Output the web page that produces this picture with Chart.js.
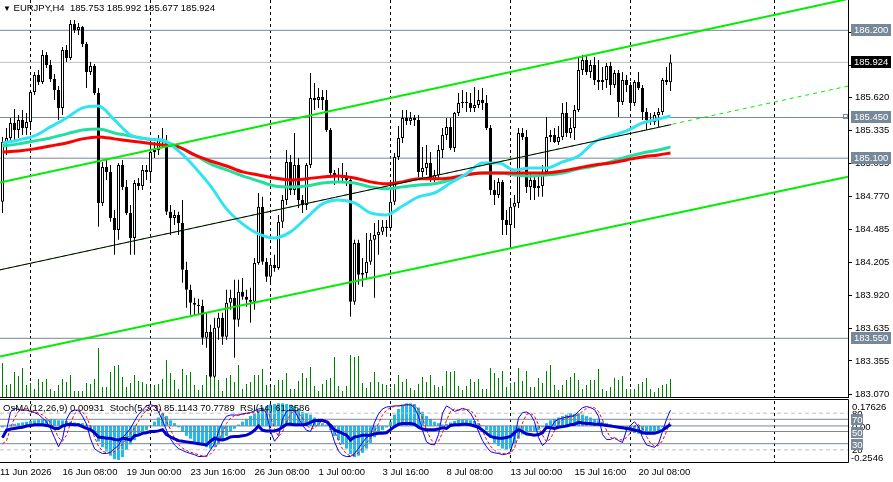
<!DOCTYPE html>
<html>
<head>
<meta charset="utf-8">
<script src="https://cdn.jsdelivr.net/npm/chart.js@4.4.1/dist/chart.umd.min.js"></script>
<style>
  html, body { margin: 0; padding: 0; background: #fff; }
  #wrap { position: relative; width: 893px; height: 482px; overflow: hidden; font-family: "Liberation Sans", Arial, sans-serif; }
  canvas { position: absolute; left: 0; }
  #main { top: 0; }
  #ind { top: 399px; }
  .cap { position: absolute; font-size: 9.5px; line-height: 12px; color: #000; white-space: pre; }
  .cap b { font-weight: normal; font-size: 8px; }
</style>
</head>
<body>
<div id="wrap">
  <canvas id="main" width="893" height="399"></canvas>
  <canvas id="ind" width="893" height="83"></canvas>
  <div class="cap" style="left:3px;top:2px"><b>▼</b> EURJPY,H4  185.753 185.992 185.677 185.924</div>
  <div class="cap" style="left:3px;top:402px">OsMA(12,26,9) 0.00931  Stoch(5,3,3) 85.1143 70.7789  RSI(14) 61.3586</div>
</div>
<script>
// EURJPY H4 candles, oldest first (168 bars)
const opens = [
  184.724,185.240,185.274,185.403,185.343,185.429,185.360,185.412,185.670,185.816,
  185.756,185.988,185.902,185.782,185.687,185.532,186.031,185.962,186.255,186.203,
  186.229,186.083,185.842,185.893,185.661,184.715,185.025,184.982,184.586,184.483,
  185.042,184.853,184.629,184.414,184.887,184.861,184.999,184.982,185.154,185.171,
  185.257,185.240,184.638,184.586,184.612,184.543,184.139,183.967,183.855,183.838,
  183.829,183.554,183.606,183.219,183.640,183.726,183.563,183.855,183.898,183.709,
  183.950,183.907,183.881,183.864,184.199,184.681,184.208,184.079,184.182,184.156,
  184.552,184.741,185.068,184.827,185.042,184.741,184.698,185.042,185.618,185.601,
  185.627,185.601,185.343,184.973,184.939,184.947,184.930,184.913,183.864,184.371,
  184.096,184.113,184.208,184.397,184.440,184.466,184.509,184.500,184.724,185.111,
  185.274,185.446,185.420,185.446,185.429,184.982,185.016,185.059,184.913,184.956,
  185.171,185.300,185.369,185.188,185.489,185.575,185.584,185.575,185.532,185.558,
  185.601,185.575,185.360,184.827,184.784,184.896,184.569,184.526,184.681,184.715,
  185.317,185.283,184.853,184.913,184.844,184.861,184.982,185.283,185.300,185.240,
  185.283,185.489,185.317,185.360,185.515,185.859,185.945,185.842,185.902,185.773,
  185.756,185.773,185.893,185.730,185.833,185.584,185.773,185.730,185.575,185.756,
  185.704,185.498,185.429,185.412,185.472,185.498,185.773,185.753
];
const highs = [
  185.283,185.360,185.446,185.524,185.472,185.515,185.489,185.687,185.842,185.859,
  186.031,186.014,185.945,185.825,185.721,186.057,186.074,186.289,186.289,186.263,
  186.237,186.100,185.928,185.911,185.704,185.068,185.085,185.042,184.655,185.059,
  185.085,184.913,184.698,184.913,184.930,185.042,185.042,185.257,185.240,185.300,
  185.360,185.300,184.698,184.655,184.638,184.741,184.208,184.010,183.898,183.890,
  183.881,183.769,183.666,183.726,183.769,183.769,183.967,183.967,184.053,184.053,
  184.070,183.967,183.984,184.242,184.801,184.767,184.242,184.242,184.268,184.612,
  184.784,185.171,185.128,185.317,185.102,184.784,185.059,185.833,185.747,185.704,
  185.687,185.687,185.360,184.999,185.016,185.059,184.982,184.930,184.397,184.397,
  184.242,184.457,184.457,184.543,184.569,184.569,184.569,184.844,185.145,185.377,
  185.515,185.515,185.498,185.472,185.472,185.197,185.214,185.154,184.999,185.214,
  185.360,185.446,185.446,185.498,185.661,185.687,185.670,185.661,185.713,185.687,
  185.704,185.644,185.386,184.913,184.930,184.913,184.655,184.741,184.784,185.360,
  185.360,185.343,184.982,184.956,184.956,185.042,185.455,185.343,185.360,185.377,
  185.575,185.584,185.446,185.558,185.962,185.988,185.988,185.945,185.971,185.945,
  185.885,185.919,185.928,185.859,185.859,185.842,185.816,185.756,185.773,185.842,
  185.730,185.532,185.489,185.498,185.532,185.790,185.885,185.992
];
const lows = [
  184.629,185.128,185.257,185.257,185.274,185.300,185.300,185.343,185.644,185.730,
  185.739,185.876,185.756,185.601,185.429,185.472,185.928,185.945,186.177,186.160,
  186.057,185.704,185.816,185.644,184.509,184.689,184.913,184.552,184.268,184.397,
  184.827,184.612,184.268,184.268,184.827,184.827,184.913,184.913,185.102,185.128,
  185.188,184.612,184.440,184.526,184.440,184.027,183.812,183.752,183.752,183.752,
  183.494,183.468,183.210,183.210,183.537,183.494,183.537,183.795,183.382,183.649,
  183.881,183.821,183.683,183.795,184.182,184.182,184.036,184.027,184.122,184.139,
  184.500,184.698,184.784,184.784,184.672,184.629,184.655,185.016,185.515,185.532,
  185.515,185.326,184.930,184.870,184.896,184.887,184.861,183.735,183.838,184.010,
  183.993,184.070,184.182,183.898,184.268,184.440,184.423,184.483,184.698,185.085,
  185.231,185.386,185.386,185.377,184.939,184.930,184.956,184.896,184.896,184.913,
  185.102,185.257,185.171,185.154,185.463,185.532,185.498,185.498,185.498,185.532,
  185.515,185.343,184.784,184.698,184.758,184.440,184.440,184.328,184.500,184.672,
  185.257,184.801,184.741,184.741,184.767,184.767,184.956,185.240,185.231,185.214,
  185.257,185.283,185.274,185.257,185.498,185.816,185.816,185.790,185.730,185.687,
  185.687,185.704,185.644,185.704,185.455,185.558,185.670,185.515,185.549,185.687,
  185.429,185.343,185.386,185.386,185.369,185.472,185.730,185.677
];
const closes = [
  185.240,185.274,185.403,185.343,185.429,185.360,185.412,185.670,185.816,185.756,
  185.988,185.902,185.782,185.687,185.532,186.031,185.962,186.255,186.203,186.229,
  186.083,185.842,185.893,185.661,184.715,185.025,184.982,184.586,184.483,185.042,
  184.853,184.629,184.414,184.887,184.861,184.999,184.982,185.154,185.171,185.257,
  185.240,184.638,184.586,184.612,184.543,184.139,183.967,183.855,183.838,183.829,
  183.554,183.606,183.219,183.640,183.726,183.563,183.855,183.898,183.709,183.950,
  183.907,183.881,183.864,184.199,184.681,184.208,184.079,184.182,184.156,184.552,
  184.741,185.068,184.827,185.042,184.741,184.698,185.042,185.618,185.601,185.627,
  185.601,185.343,184.973,184.939,184.947,184.930,184.913,183.864,184.371,184.096,
  184.113,184.208,184.397,184.440,184.466,184.509,184.500,184.724,185.111,185.274,
  185.446,185.420,185.446,185.429,184.982,185.016,185.059,184.913,184.956,185.171,
  185.300,185.369,185.188,185.489,185.575,185.584,185.575,185.532,185.558,185.601,
  185.575,185.360,184.827,184.784,184.896,184.569,184.526,184.681,184.715,185.317,
  185.283,184.853,184.913,184.844,184.861,184.982,185.283,185.300,185.240,185.283,
  185.489,185.317,185.360,185.515,185.859,185.945,185.842,185.902,185.773,185.756,
  185.773,185.893,185.730,185.833,185.584,185.773,185.730,185.575,185.756,185.704,
  185.498,185.429,185.412,185.472,185.498,185.773,185.756,185.924
];
// tick volume, relative
const volumes = [
  34,12,13,25,21,29,12,14,8,18, 15,18,8,6,12,18,15,22,6,6,
  6,14,13,18,49,10,10,25,31,32, 20,10,14,22,16,15,13,10,12,13,
  18,37,24,17,8,28,22,25,12,7, 12,22,30,30,17,6,19,22,15,32,
  8,13,15,22,22,28,12,10,12,17, 17,24,8,8,16,
  24,19,30,11,6,13,17,19,40,11, 6,11,42,40,41,14,9,15,25,15,
  13,12,9,13,22,15,18,9,7,13, 20,15,22,12,10,11,26,25,26,11,
  7,11,18,15,18,8,8,29,24,19, 26,10,14,15,29,16,26,10,10,19,
  14,26,32,12,7,12,17,20,24,17, 8,12,17,17,28,8,6,10,19,17,
  21,8,8,8,13,15,19,8,5,9, 12,13,18
];

// moving averages, read every 4th bar
const maBars = [0,4,8,12,16,20,24,28,32,36,40,44,48,52,56,60,64,68,72,76,80,84,88,92,96,100,104,108,112,116,120,124,128,132,136,140,144,148,152,156,160,164,167];
const maFast = [185.231,185.257,185.291,185.369,185.446,185.532,185.549,185.429,185.300,185.266,185.257,185.162,185.025,184.861,184.664,184.535,184.449,184.414,184.466,184.586,184.707,184.741,184.715,184.629,184.612,184.689,184.767,184.801,184.887,184.965,185.059,185.059,184.999,185.016,185.016,185.068,185.119,185.240,185.291,185.334,185.403,185.437,185.463];
const maMid = [185.205,185.223,185.248,185.274,185.309,185.343,185.352,185.317,185.291,185.266,185.248,185.197,185.128,185.051,184.999,184.947,184.904,184.861,184.853,184.861,184.887,184.896,184.887,184.853,184.836,184.853,184.870,184.879,184.913,184.956,184.973,184.973,184.956,184.947,184.956,184.973,185.008,185.033,185.068,185.111,185.145,185.171,185.197];
const maSlow = [185.154,185.162,185.180,185.205,185.231,185.266,185.283,185.266,185.248,185.231,185.214,185.197,185.128,185.076,185.033,184.982,184.956,184.930,184.913,184.922,184.939,184.947,184.930,184.896,184.879,184.896,184.922,184.922,184.930,184.956,184.973,184.973,184.973,184.973,184.973,184.990,185.016,185.042,185.059,185.085,185.111,185.128,185.145];

// indicator window
const osma = [
  -0.01,0.0,0.01,0.015,0.02,0.025,0.03,0.035,0.04,0.045,
  0.05,0.05,0.05,0.045,0.04,0.04,0.035,0.03,0.025,0.02,
  0.02,0.01,-0.02,-0.06,-0.11,-0.15,-0.18,-0.21,-0.235,-0.24,
  -0.22,-0.17,-0.13,-0.1,-0.07,-0.05,-0.03,0.0,0.03,0.06,
  0.09,0.07,0.04,0.02,-0.01,-0.04,-0.07,-0.09,-0.11,-0.13,
  -0.14,-0.15,-0.16,-0.15,-0.13,-0.1,-0.07,-0.04,-0.02,0.01,
  0.03,0.05,0.07,0.09,0.11,0.13,0.14,0.15,0.155,0.16,
  0.16,0.155,0.15,0.14,0.12,0.1,0.09,0.08,0.06,0.04,
  0.02,0.01,-0.03,-0.07,-0.1,-0.13,-0.16,-0.2,-0.22,-0.21,
  -0.19,-0.16,-0.12,-0.08,-0.05,-0.03,-0.01,0.03,0.08,0.12,
  0.15,0.16,0.16,0.155,0.13,0.1,0.07,0.05,0.03,0.02,
  0.01,0.015,0.025,0.035,0.045,0.045,0.045,0.04,0.035,0.02,
  0.005,-0.03,-0.08,-0.12,-0.14,-0.16,-0.17,-0.16,-0.13,-0.09,
  -0.06,-0.05,-0.04,-0.035,-0.03,-0.01,0.02,0.04,0.05,0.06,
  0.07,0.08,0.09,0.085,0.09,0.08,0.07,0.06,0.05,0.04,
  0.03,0.02,0.01,0.005,-0.01,-0.02,-0.03,-0.04,-0.05,-0.055,
  -0.06,-0.065,-0.06,-0.05,-0.035,-0.01,0.003,0.00931
];
const stochMain = [
  40,52,82,88,86,85,85,83,81,78, 72,66,55,40,25,38,70,82,85,85,
  75,62,38,22,17,14,14,16,22,27, 40,47,55,67,78,85,92,94,92,82,
  68,52,38,28,22,19,16,14,12,9, 9,10,20,30,50,65,75,77,77,77,
  79,80,81,84,87,88,80,50,34,42, 70,83,85,84,72,60,52,50,65,70,
  70,66,55,33,18,11,9,9,14,22, 32,40,44,65,79,87,90,91,92,92,
  93,94,94,89,75,52,33,29,28,45, 80,92,88,83,85,88,86,80,68,50,
  35,25,17,15,14,12,13,17,40,72, 81,82,78,66,40,27,33,55,66,70,
  72,74,75,76,83,89,91,89,86,75, 45,37,37,40,35,32,52,60,66,58,
  40,28,26,24,30,50,70,85.1143
];
const stochSignal = [
  30,35,55,72,83,86,85,84,83,80, 77,72,64,54,40,34,44,63,79,84,
  82,74,58,41,26,18,15,15,17,22, 30,38,47,56,67,77,85,90,93,89,
  81,67,53,39,29,23,19,16,14,12, 10,9,13,20,33,48,63,72,76,77,
  78,79,80,82,84,86,85,73,55,42, 49,65,79,84,80,72,61,54,56,62,
  68,69,64,51,35,21,13,10,11,15, 23,31,39,50,63,77,85,89,91,92,
  92,93,94,92,86,72,53,38,30,34, 48,68,83,87,85,85,86,85,78,66,
  51,37,26,19,15,14,13,14,23,43, 64,78,80,75,61,44,33,38,51,64,
  69,72,74,75,78,83,88,90,89,83, 69,52,40,38,37,36,40,48,59,61,
  55,42,31,26,27,35,50,70.7789
];
const rsi = [
  40,52,54,55,56,57,59,60,61,61, 61,60,58,55,55,59,61,62,61,61,
  58,55,53,48,41,40,39,39,37,36, 39,38,36,43,44,47,48,50,50,51,
  53,45,41,38,35,34,33,32,31,30, 29,28,34,39,37,36,38,41,42,42,
  43,44,47,52,59,52,51,51,51,53, 57,62,62,61,61,61,62,65,68,68,
  68,66,60,52,50,47,44,36,41,42, 44,44,44,46,47,47,48,53,58,62,
  63,63,63,62,57,54,53,53,53,54, 56,55,60,61,61,62,62,61,59,57,
  52,47,42,40,39,39,40,42,48,53, 50,46,45,44,45,48,57,56,55,57,
  58,59,61,62,65,64,63,63,62,62, 61,60,59,58,57,56,55,54,52,51,
  48,47,47,47,49,52,57,61.3586
];

const priceTicks = [183.070,183.355,183.635,183.920,184.205,184.485,184.770,185.055,185.335,185.620,185.900,186.185];
const timeLabels = ['11 Jun 2026','16 Jun 08:00','19 Jun 00:00','23 Jun 16:00','26 Jun 08:00','1 Jul 00:00','3 Jul 16:00','8 Jul 08:00','13 Jul 00:00','15 Jul 16:00','20 Jul 08:00'];
const timeLabelBars = [-0.625,15,31,47,63,79,95,111,127,143,159];
const gridBars = [7,37,67,97,127,157,193];

const levelLines = [186.200, 185.450, 185.100, 183.550];
const lastPrice = 185.924;
// trend lines: [bar, price] anchors
const upperChannel = [[-0.625,184.890],[211.375,186.470]];
const lowerChannel = [[-0.625,183.393],[211.375,184.940]];
const midLine = [[-0.625,184.139],[167.2,185.389]];
const midLineExt = [[-0.625,184.139],[211.375,185.720]];
const stochLevels = [80, 20];
const rsiLevels = [70, 50, 30];

const X_MIN = -0.625, X_MAX = 211.375;
const FONT = '"Liberation Sans", Arial, sans-serif';
Chart.defaults.font.family = FONT;
Chart.defaults.font.size = 9.5;
Chart.defaults.color = '#000';

const idx = closes.map((c, i) => i);
const hl = v => [{x: X_MIN, y: v}, {x: X_MAX, y: v}];
const seg = pts => pts.map(p => ({x: p[0], y: p[1]}));
const ma = vals => vals.map((v, k) => ({x: maBars[k], y: v}));

const lineDs = (data, color, width, order, extra) => Object.assign({
  type: 'line', data, borderColor: color, borderWidth: width, pointRadius: 0,
  pointHoverRadius: 0, fill: false, order, xAxisID: 'x', yAxisID: 'y'
}, extra || {});

const barDs = (data, color, thick, order, extra) => Object.assign({
  type: 'bar', data, backgroundColor: color, barThickness: thick, grouped: false,
  borderWidth: 0, inflateAmount: 0, order, xAxisID: 'x', yAxisID: 'y'
}, extra || {});

const xGrid = {
  type: 'linear', min: X_MIN, max: X_MAX, offset: false,
  afterBuildTicks: s => { s.ticks = gridBars.map(v => ({value: v})); },
  ticks: {display: false},
  grid: {color: '#000', lineWidth: 1, drawTicks: false, offset: false},
  border: {display: false, dash: [3, 3]},
  afterFit: s => { s.height = 0; s.paddingLeft = 0; s.paddingRight = 0; }
};

const mainTags = {
  id: 'mainTags',
  afterDraw(chart) {
    const {ctx, chartArea: a, scales: {y}} = chart;
    ctx.save();
    ctx.strokeStyle = '#000';
    ctx.lineWidth = 1;
    ctx.beginPath();
    ctx.moveTo(0, a.bottom + 0.5);
    ctx.lineTo(a.right + 1, a.bottom + 0.5);
    ctx.stroke();
    ctx.font = '9.5px ' + FONT;
    ctx.textBaseline = 'middle';
    const tag = (v, bg) => {
      const py = Math.round(y.getPixelForValue(v));
      ctx.fillStyle = bg;
      ctx.fillRect(851, py - 6, 40, 12);
      ctx.fillStyle = '#fff';
      ctx.fillText(v.toFixed(3), 854, py + 0.5);
    };
    levelLines.forEach(v => tag(v, '#778899'));
    tag(lastPrice, '#000');
    const hy = Math.round(y.getPixelForValue(levelLines[1]));
    ctx.strokeStyle = '#778899';
    ctx.strokeRect(843.5, hy - 2.5, 4, 4);
    ctx.restore();
  }
};

new Chart(document.getElementById('main'), {
  type: 'bar',
  data: {
    datasets: [
      lineDs(seg(upperChannel), '#00ee00', 2, 1),
      lineDs(seg(lowerChannel), '#00ee00', 2, 1),
      lineDs(seg(midLine), '#000', 1, 1),
      lineDs(seg(midLineExt), '#00ee00', 1, 1, {borderDash: [4, 4]}),
      lineDs(ma(maFast), '#30e4f4', 3, 2, {cubicInterpolationMode: 'monotone'}),
      lineDs(ma(maSlow), '#ff0000', 3, 3, {cubicInterpolationMode: 'monotone'}),
      lineDs(ma(maMid), '#20e0a0', 3, 4, {cubicInterpolationMode: 'monotone'}),
      barDs(idx.map(i => ({x: i, y: [opens[i], closes[i]]})),
        ctx => closes[ctx.dataIndex] >= opens[ctx.dataIndex] ? '#fff' : '#000', 3, 5,
        {borderColor: '#000', borderWidth: 1, borderSkipped: false}),
      barDs(idx.map(i => ({x: i, y: [lows[i], highs[i]]})), '#000', 1, 6),
      lineDs(hl(lastPrice), '#c0c0c0', 1, 7),
      ...levelLines.map(v => lineDs(hl(v), '#778899', 1, 7)),
      barDs(idx.map(i => ({x: i, y: [0, volumes[i]]})), '#008000', 1, 8, {yAxisID: 'vol'})
    ]
  },
  options: {
    responsive: false,
    animation: false,
    events: [],
    layout: {padding: {top: 0, bottom: 2, left: 0, right: 0}},
    plugins: {legend: {display: false}, tooltip: {enabled: false}},
    scales: {
      x: xGrid,
      y: {
        position: 'right', min: 183.045, max: 186.461,
        afterBuildTicks: s => { s.ticks = priceTicks.map(v => ({value: v})); },
        ticks: {padding: 3, callback: v => v.toFixed(3)},
        grid: {drawOnChartArea: false, color: '#000', tickLength: 4},
        border: {display: true, color: '#000'},
        afterFit: s => { s.width = 45; s.paddingTop = 0; s.paddingBottom = 0; }
      },
      vol: {display: false, min: 0, max: 397}
    }
  },
  plugins: [mainTags]
});

const indFrame = {
  id: 'indFrame',
  afterDraw(chart) {
    const {ctx, chartArea: a, scales: {pct, osma: os}} = chart;
    ctx.save();
    ctx.strokeStyle = '#000';
    ctx.lineWidth = 1;
    ctx.beginPath();
    ctx.moveTo(0, 0.5);
    ctx.lineTo(a.right + 0.5, 0.5);
    ctx.lineTo(a.right + 0.5, a.bottom + 0.5);
    ctx.lineTo(0, a.bottom + 0.5);
    ctx.stroke();
    ctx.font = '9.5px ' + FONT;
    ctx.textBaseline = 'middle';
    ctx.fillStyle = '#000';
    stochLevels.forEach(v => ctx.fillText(String(v), 852, pct.getPixelForValue(v) + 1));
    ctx.fillText('0.00', 852, os.getPixelForValue(0) + 1);
    rsiLevels.forEach(v => {
      const py = Math.round(pct.getPixelForValue(v));
      ctx.fillStyle = '#778899';
      ctx.fillRect(851, py - 5, 12, 11);
      ctx.fillStyle = '#fff';
      ctx.fillText(String(v), 852, py + 1);
    });
    ctx.fillStyle = '#000';
    ctx.fillText(os.max.toFixed(5), 852, a.top + 6);
    ctx.fillText(os.min.toFixed(4), 851, a.bottom - 4);
    ctx.restore();
  }
};

new Chart(document.getElementById('ind'), {
  type: 'bar',
  data: {
    datasets: [
      ...stochLevels.map(v => lineDs(hl(v), '#c0c0c0', 1, 7, {yAxisID: 'pct', borderDash: [4, 3]})),
      ...rsiLevels.map(v => lineDs(hl(v), '#778899', 1, 7, {yAxisID: 'pct'})),
      lineDs(hl(0), '#778899', 1, 7, {yAxisID: 'osma'}),
      barDs(idx.map(i => ({x: i, y: [0, osma[i]]})), '#22bbee', 3, 8, {yAxisID: 'osma'}),
      lineDs(idx.map(i => ({x: i, y: stochMain[i]})), '#0000ff', 1, 3, {yAxisID: 'pct'}),
      lineDs(idx.map(i => ({x: i, y: stochSignal[i]})), '#ff0000', 1, 2, {yAxisID: 'pct', borderDash: [3, 2]}),
      lineDs(idx.map(i => ({x: i, y: rsi[i]})), '#0000cc', 3, 1, {yAxisID: 'pct'})
    ]
  },
  options: {
    responsive: false,
    animation: false,
    events: [],
    layout: {padding: {top: 2, bottom: 0, left: 0, right: 45}},
    plugins: {legend: {display: false}, tooltip: {enabled: false}},
    scales: {
      x: xGrid,
      xl: {
        type: 'linear', position: 'bottom', min: X_MIN, max: X_MAX, offset: false,
        afterBuildTicks: s => { s.ticks = timeLabelBars.map(v => ({value: v})); },
        ticks: {align: 'start', autoSkip: false, maxRotation: 0, minRotation: 0, padding: -3,
                callback: (v, i) => timeLabels[i]},
        grid: {display: false},
        border: {display: false},
        afterFit: s => { s.height = 20; s.paddingLeft = 0; s.paddingRight = 0; }
      },
      osma: {display: false, min: -0.2546, max: 0.17626},
      pct: {display: false, min: 0, max: 100}
    }
  },
  plugins: [indFrame]
});
</script>
</body>
</html>
